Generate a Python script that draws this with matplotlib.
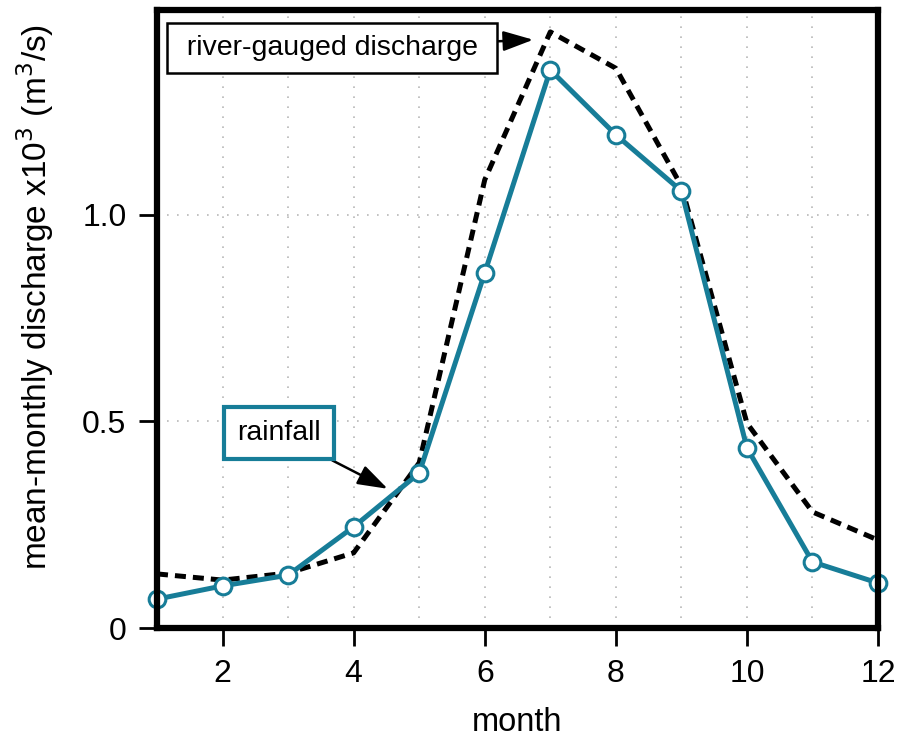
import numpy as np
import matplotlib.pyplot as plt

months = np.arange(1, 13)
rainfall = [0.070, 0.102, 0.128, 0.245, 0.375, 0.860, 1.351, 1.194, 1.058, 0.436, 0.160, 0.109]
river = [0.131, 0.116, 0.133, 0.182, 0.400, 1.085, 1.443, 1.355, 1.070, 0.496, 0.281, 0.213]

teal = '#177d98'

plt.rcParams['font.family'] = ['Liberation Sans', 'DejaVu Sans']

fig = plt.figure(figsize=(9.15, 7.36), dpi=100)
ax = fig.add_axes([0.1716, 0.1467, 0.788, 0.8397])

ax.plot(months, river, color='black', lw=3.6, ls=(0, (2.2, 1.4)), zorder=2)
ax.plot(months, rainfall, color=teal, lw=3.6, marker='o', ms=12,
        mfc='white', mec=teal, mew=2.2, zorder=2.2, clip_on=False)

ax.set_xlim(1, 12)
ax.set_ylim(0, 1.496)
ax.set_xticks([2, 4, 6, 8, 10, 12])
ax.set_yticks([0, 0.5, 1.0])
ax.set_yticklabels(['0', '0.5', '1.0'])

for m in months:
    ax.axvline(m, color='#b8b8b8', lw=1.2, ls=(0, (1, 5)), zorder=1)
for v in [0.5, 1.0]:
    ax.axhline(v, color='#b8b8b8', lw=1.2, ls=(0, (1, 5)), zorder=1)

for s in ax.spines.values():
    s.set_linewidth(4.5)
    s.set_zorder(2.5)

ax.tick_params(axis='both', direction='out', length=13, width=2,
               labelsize=23, pad=9)

ax.set_xlabel('month', fontsize=23.5, labelpad=13)
ax.set_ylabel(r'mean-monthly discharge x10$^3$ (m$^3$/s)', fontsize=24)
ax.yaxis.set_label_coords(-0.14, 0.535)

ax.annotate(' river-gauged discharge ', xy=(6.74, 1.424), xytext=(3.67, 1.403),
            fontsize=20.5, ha='center', va='center',
            bbox=dict(boxstyle='square,pad=0.42', fc='white', ec='black', lw=1.8),
            arrowprops=dict(arrowstyle='-|>,head_length=0.9,head_width=0.3',
                            color='black', lw=1.8, shrinkA=0, shrinkB=0))

ax.annotate('rainfall', xy=(4.52, 0.337), xytext=(2.86, 0.472),
            fontsize=20.5, ha='center', va='center',
            bbox=dict(boxstyle='square,pad=0.45', fc='white', ec=teal, lw=3),
            arrowprops=dict(arrowstyle='-|>,head_length=0.9,head_width=0.3',
                            color='black', lw=1.8, shrinkA=0, shrinkB=0))

fig.savefig('out.png', dpi=100)
